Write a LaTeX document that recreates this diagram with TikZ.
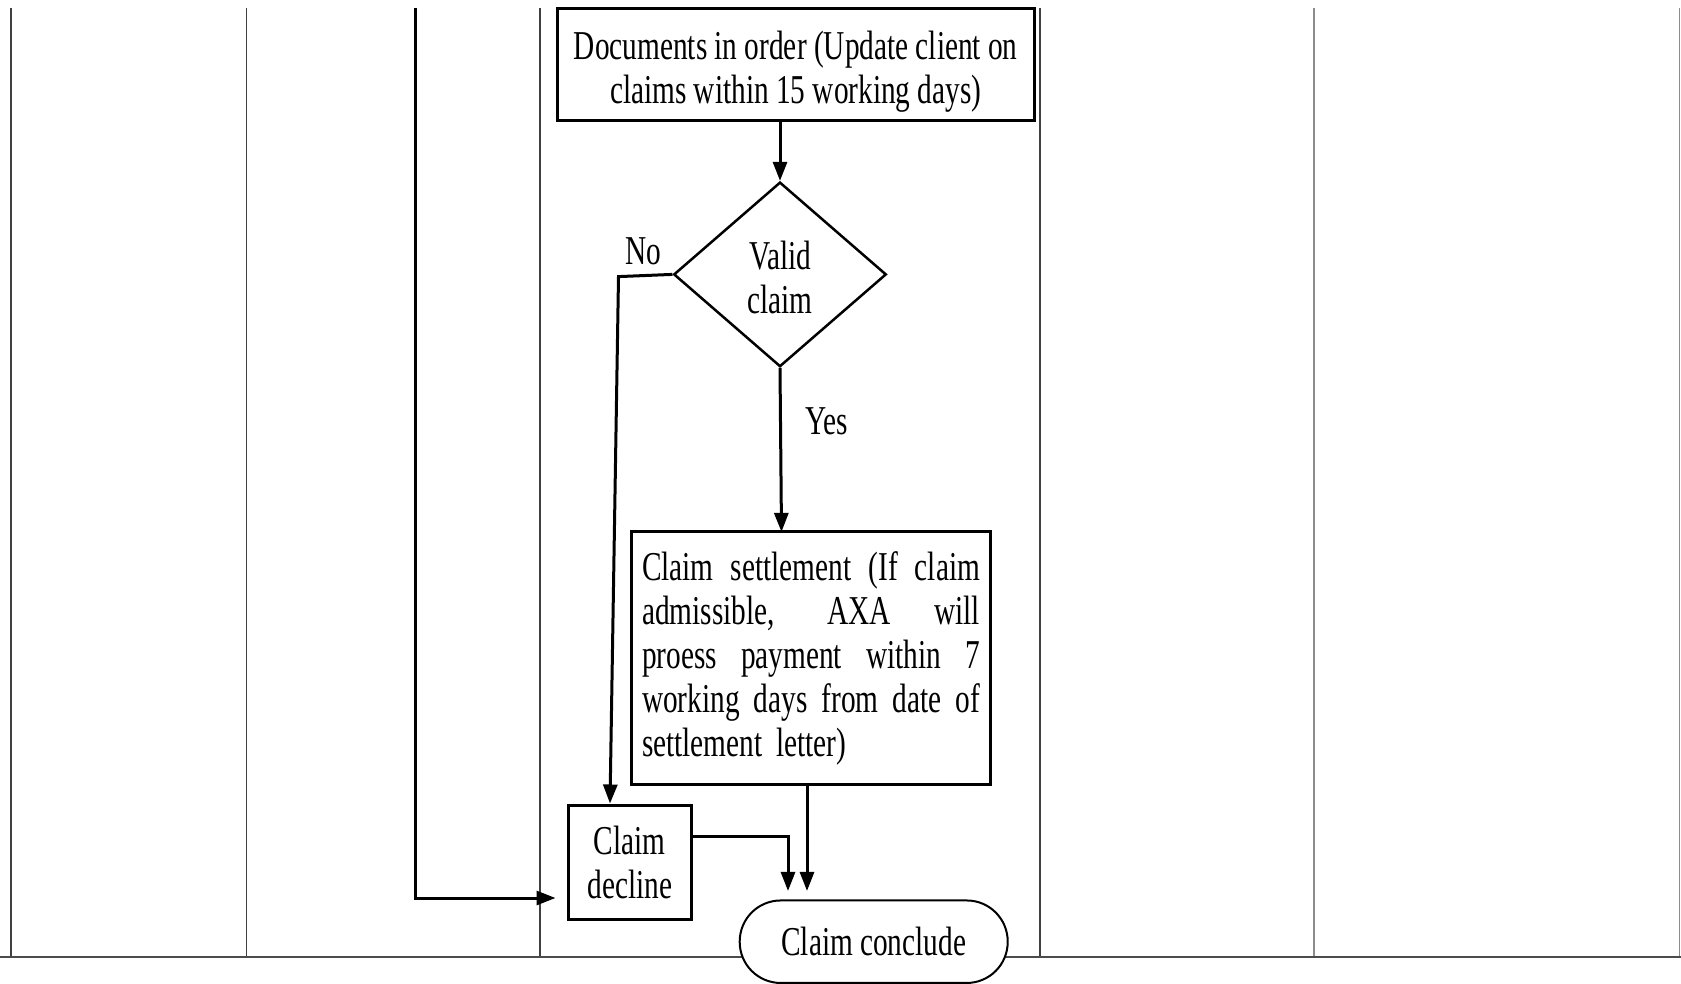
\documentclass[tikz,border=0pt]{standalone}
\usepackage{fontspec}
\setmainfont{Liberation Serif}[FakeStretch=0.715]
\usetikzlibrary{shapes.geometric,arrows.meta}
\newcommand\fsz{\fontsize{41}{44}\selectfont}
\newcommand\jline[1]{\leavevmode\hbox to 338pt{\spaceskip=\fontdimen2\font plus 1fil\relax #1}}
\tikzset{
  lane/.style={line width=1.6pt, black!75},
  lanegray/.style={line width=1.6pt, black!45},
  box/.style={draw, line width=3pt, fill=white, inner sep=0pt, align=center, font=\fsz},
  arr/.style={line width=3pt, -{Triangle[length=19pt,width=14pt]}},
  lbl/.style={font=\fsz, inner sep=0pt}
}
\begin{document}
\begin{tikzpicture}[x=1pt,y=-1pt]
\useasboundingbox (0,0) rectangle (1681,983);
% swimlane lines
\draw[lane] (11,8) -- (11,957);
\draw[lane] (246.6,8) -- (246.6,957);
\draw[lane] (540,8) -- (540,957);
\draw[lane] (1040,8) -- (1040,957);
\draw[lanegray] (1314,8) -- (1314,957);
\draw[lanegray] (1679.5,8) -- (1679.5,957);
\draw[line width=2.2pt, black!70] (0,957) -- (1681,957);
% nodes
\node[box, minimum width=477.5pt, minimum height=111.4pt,
  label={[lbl, align=center, yshift=-7.5pt]center:{Documents in order (Update client on\\claims within 15 working days)}}] (docs) at (795.75,64.3) {};
\node[diamond, draw, line width=2.5pt, fill=white, minimum width=212.6pt, minimum height=184.6pt,
  aspect=1.15, inner sep=0pt, align=center, font=\fsz,
  label={[lbl, align=center, yshift=-3pt]center:{Valid\\claim}}] (valid) at (780,274.4) {};
\node[box, minimum width=359pt, minimum height=253pt, text width=338pt, align=left] (settle) at (811,658)
  {\jline{Claim settlement (If claim}\\
   \jline{admissible, AXA will}\\
   \jline{proess payment within 7}\\
   \jline{working days from date of}\\
   settlement letter)};
\node[box, minimum width=123.4pt, minimum height=114.8pt] (decline) at (629.7,862.4) {Claim\\decline};
\node[draw, line width=2pt, fill=white, rounded corners=41pt, minimum width=268pt,
  minimum height=82.5pt, inner sep=0pt, font=\fsz] (conclude) at (873.7,941.7) {Claim conclude};
% labels
\node[lbl] (nolbl) at (643,251) {No};
\node[lbl] (yeslbl) at (826.5,421) {Yes};
% connectors
\coordinate (topin) at (415,8);
\coordinate (nocorner) at (618.5,276.6);
\draw[arr] (valid.north |- docs.south) -- (valid.north);
\draw[arr] (valid.west) -- (nocorner) -- ([xshift=-19.7pt]decline.north);
\draw[arr] (valid.south) -- ([xshift=-29.5pt,yshift=-1.9pt]settle.north);
\draw[arr] (topin) |- ([xshift=-11pt,yshift=-35.6pt]decline.west);
\draw[arr] ([xshift=-4pt]settle.south) -- ([xshift=-66.7pt,yshift=8.5pt]conclude.north);
\draw[arr] ([yshift=26.4pt]decline.east) -| ([xshift=-85.7pt,yshift=8.5pt]conclude.north);
\end{tikzpicture}
\end{document}
